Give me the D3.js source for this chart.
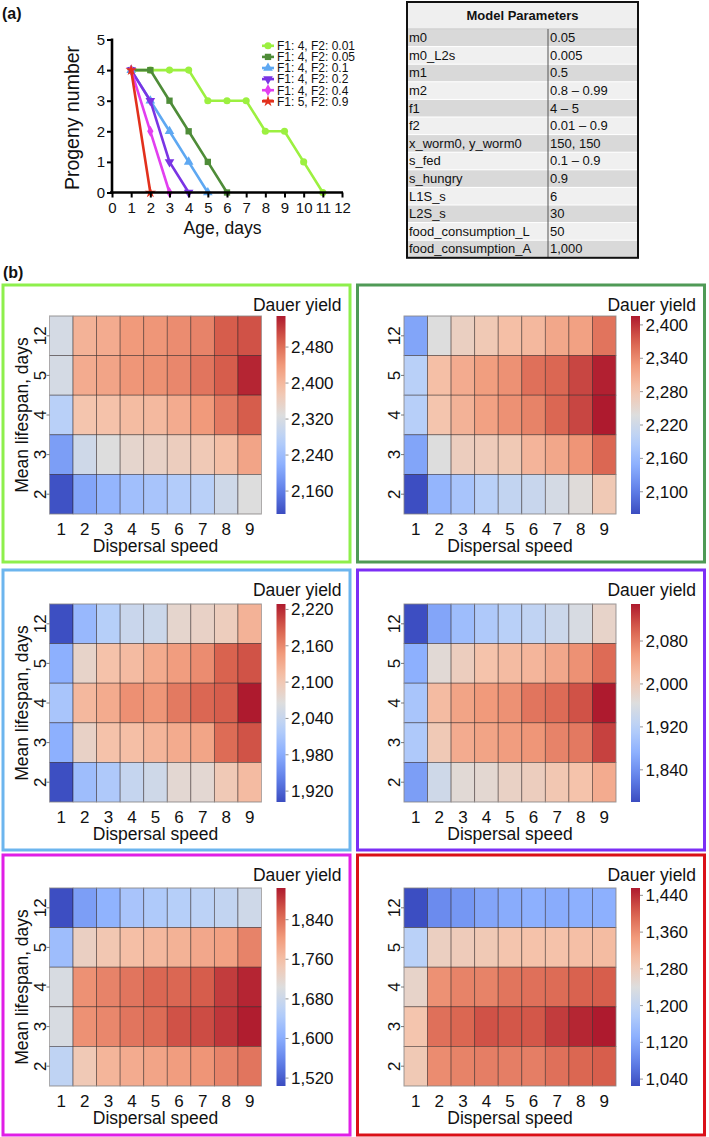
<!DOCTYPE html>
<html><head><meta charset="utf-8">
<script src="https://cdn.jsdelivr.net/npm/d3@7"></script>
<style>body{margin:0;background:#fff}svg{display:block}text{font-family:"Liberation Sans",Arial,sans-serif;fill:#111}</style>
</head><body><svg id="c" width="709" height="1137"></svg>
<script>
// ---------- (a) line chart data ----------
const seriesLabels = ["F1: 4, F2: 0.01","F1: 4, F2: 0.05","F1: 4, F2: 0.1","F1: 4, F2: 0.2","F1: 4, F2: 0.4","F1: 5, F2: 0.9"];
const progenyF2_001 = [4,4,4,4,3,3,3,2,2,1,0];
const progenyF2_005 = [4,4,3,2,1,0];
const progenyF2_01  = [4,3,2,1,0];
const progenyF2_02  = [4,3,1,0];
const progenyF2_04  = [4,2,0];
const progenyF2_09  = [4,0];
const ageTicks = [0,1,2,3,4,5,6,7,8,9,10,11,12];
const progenyTicks = [0,1,2,3,4,5];

// ---------- table ----------
const paramNames = ["m0","m0_L2s","m1","m2","f1","f2","x_worm0, y_worm0","s_fed","s_hungry","L1S_s","L2S_s","food_consumption_L","food_consumption_A"];
const paramValues = ["0.05","0.005","0.5","0.8 – 0.99","4 – 5","0.01 – 0.9","150, 150","0.1 – 0.9","0.9","6","30","50","1,000"];

// ---------- (b) heatmaps ----------
const speeds = ["1","2","3","4","5","6","7","8","9"];
const lifespans = ["12","5","4","3","2"];
const yieldF2_001 = [
 [2316,2408,2417,2439,2443,2452,2461,2496,2505],
 [2316,2417,2426,2443,2448,2457,2474,2496,2540],
 [2276,2382,2386,2395,2399,2417,2439,2470,2496],
 [2197,2307,2329,2347,2355,2364,2373,2391,2426],
 [2115,2206,2228,2245,2254,2267,2276,2307,2329]];
const yieldF2_005 = [
 [2138,2238,2263,2274,2288,2295,2313,2320,2356],
 [2195,2288,2309,2323,2334,2359,2366,2388,2412],
 [2192,2281,2302,2320,2334,2345,2366,2388,2416],
 [2138,2238,2266,2270,2274,2299,2313,2331,2366],
 [2062,2156,2177,2195,2206,2213,2227,2242,2274]];
const yieldF2_01 = [
 [1904,1994,2023,2043,2046,2079,2085,2092,2124],
 [1984,2082,2108,2115,2131,2144,2157,2186,2196],
 [2010,2118,2131,2154,2150,2170,2183,2190,2229],
 [1984,2085,2108,2111,2121,2131,2137,2180,2196],
 [1904,2000,2016,2039,2049,2075,2075,2098,2115]];
const yieldF2_02 = [
 [1782,1861,1891,1909,1920,1928,1942,1957,1983],
 [1872,1972,1994,2012,2020,2027,2042,2064,2094],
 [1902,2020,2046,2057,2064,2086,2094,2112,2149],
 [1909,2001,2038,2046,2053,2060,2075,2083,2123],
 [1854,1946,1972,1976,1987,1994,2005,2012,2038]];
const yieldF2_04 = [
 [1506,1584,1608,1636,1644,1652,1660,1668,1684],
 [1624,1732,1748,1760,1768,1776,1788,1796,1824],
 [1696,1812,1824,1836,1848,1848,1856,1880,1896],
 [1696,1812,1820,1836,1844,1864,1868,1884,1902],
 [1664,1744,1772,1784,1792,1800,1808,1824,1836]];
const yieldF2_09 = [
 [1027,1090,1103,1120,1128,1133,1128,1133,1133],
 [1189,1271,1279,1284,1292,1297,1297,1301,1305],
 [1262,1357,1370,1370,1383,1387,1391,1400,1404],
 [1292,1387,1396,1413,1409,1409,1430,1447,1456],
 [1284,1361,1370,1374,1374,1374,1387,1396,1404]];
const cbarDomains = [[2109,2549],[2060,2416],[1902,2229],[1780,2149],[1504,1904],[1025,1456]];
const cbarTicks1 = [2160,2240,2320,2400,2480];
const cbarTicks2 = [2100,2160,2220,2280,2340,2400];
const cbarTicks3 = [1920,1980,2040,2100,2160,2220];
const cbarTicks4 = [1840,1920,2000,2080];
const cbarTicks5 = [1520,1600,1680,1760,1840];
const cbarTicks6 = [1040,1120,1200,1280,1360,1440];

// ---------- styling ----------
const seriesColors = ["#9cf040","#4e8c38","#5ea8f2","#7a34e4","#e23ef0","#e2301c"];
const seriesSymbols = [d3.symbolCircle,d3.symbolSquare,d3.symbolTriangle,d3.symbolTriangle,d3.symbolDiamond,d3.symbolStar];
const panelBorders = ["#8eef4c","#4f9a56","#6cb5ee","#7c2ef5","#e01ee6","#da1018"];
const coolwarmStops = ["#3b4cc0","#6282ea","#8db0fe","#b8d0f9","#dddddd","#f5c4ac","#f19a7b","#d8604d","#ae1a2e"];
const coolwarm = d3.scaleLinear().domain(d3.range(9).map(i=>i/8)).range(coolwarmStops).interpolate(d3.interpolateRgb).clamp(true);

const svg = d3.select("#c");
const fmt = d3.format(",");

// ---------- (a) ----------
svg.append("text").attr("x",2).attr("y",19).attr("font-size",16).attr("font-weight","bold").text("(a)");
const x = d3.scaleLinear().domain([0,12]).range([112,342]);
const y = d3.scaleLinear().domain([0,5]).range([192.5,39.5]);
const series = [progenyF2_001,progenyF2_005,progenyF2_01,progenyF2_02,progenyF2_04,progenyF2_09];
const gA = svg.append("g");
const line = d3.line().x((d,i)=>x(i+1)).y(d=>y(d));
series.forEach((s,k)=>{
  const c = seriesColors[k];
  gA.append("path").attr("d",line(s)).attr("fill","none").attr("stroke",c).attr("stroke-width",2.6);
  s.forEach((v,i)=>{
    gA.append("path").attr("d",d3.symbol(seriesSymbols[k],k===4?34:40)())
      .attr("transform",`translate(${x(i+1)},${y(v)})`+(k===3?" rotate(180)":""))
      .attr("fill",c);
  });
});
const xAx = svg.append("g").attr("transform","translate(0,192.5)")
  .call(d3.axisBottom(x).tickValues(ageTicks).tickFormat(d3.format("d")).tickSize(5).tickSizeOuter(0).tickPadding(5));
const yAx = svg.append("g").attr("transform","translate(112,0)")
  .call(d3.axisLeft(y).tickValues(progenyTicks).tickFormat(d3.format("d")).tickSize(5).tickSizeOuter(0).tickPadding(2));
[xAx,yAx].forEach(a=>{
  a.select(".domain").attr("stroke","#000").attr("stroke-width",2.6);
  a.selectAll(".tick line").attr("stroke","#000").attr("stroke-width",2);
  a.selectAll(".tick text").attr("font-size",15).attr("font-family","Liberation Sans, Arial").attr("fill","#111");
});
xAx.select(".domain").attr("d","M110,0H343");
yAx.select(".domain").attr("d","M0,193.8V38.5");
svg.append("text").attr("x",222.5).attr("y",234).attr("text-anchor","middle").attr("font-size",17.5).text("Age, days");
svg.append("text").attr("transform","translate(79,118) rotate(-90)").attr("text-anchor","middle").attr("font-size",19.5).text("Progeny number");
// legend
seriesLabels.forEach((t,k)=>{
  const ly = 45.8 + k*11.1;
  svg.append("line").attr("x1",262).attr("x2",274).attr("y1",ly).attr("y2",ly).attr("stroke",seriesColors[k]).attr("stroke-width",2.6);
  svg.append("path").attr("d",d3.symbol(seriesSymbols[k],40)()).attr("transform",`translate(268,${ly})`+(k===3?" rotate(180)":"")).attr("fill",seriesColors[k]);
  svg.append("text").attr("x",277).attr("y",ly+4.3).attr("font-size",12).text(t);
});

// ---------- table ----------
const tX0=407, tX1=638, tXm=548, tY0=2, hH=27, rH=17.6;
const gT = svg.append("g");
gT.append("rect").attr("x",tX0).attr("y",tY0).attr("width",tX1-tX0).attr("height",hH).attr("fill","#efefef");
paramNames.forEach((n,i)=>{
  const ry = tY0+hH+i*rH;
  const bg = i%2===0 ? "#d9d9d9" : "#f0f0f0";
  gT.append("rect").attr("x",tX0).attr("y",ry).attr("width",tX1-tX0).attr("height",rH).attr("fill",bg);
  gT.append("line").attr("x1",tX0).attr("x2",tX1).attr("y1",ry).attr("y2",ry).attr("stroke","#fff").attr("stroke-width",1);
  gT.append("text").attr("x",tX0+2).attr("y",ry+rH-4.5).attr("font-size",13).attr("font-family","Lato, sans-serif").text(n);
  gT.append("text").attr("x",tXm+2).attr("y",ry+rH-4.5).attr("font-size",13).attr("font-family","Lato, sans-serif").text(paramValues[i]);
});
gT.append("line").attr("x1",tX0).attr("x2",tX1).attr("y1",tY0+hH).attr("y2",tY0+hH).attr("stroke","#bbb").attr("stroke-width",1);
gT.append("line").attr("x1",tXm).attr("x2",tXm).attr("y1",tY0+hH).attr("y2",tY0+hH+13*rH).attr("stroke","#555").attr("stroke-width",1);
gT.append("text").attr("x",(tX0+tX1)/2).attr("y",tY0+18).attr("text-anchor","middle").attr("font-size",13).attr("font-weight","bold").attr("font-family","Lato, sans-serif").text("Model Parameters");
gT.append("rect").attr("x",tX0).attr("y",tY0).attr("width",tX1-tX0).attr("height",hH+13*rH).attr("fill","none").attr("stroke","#111").attr("stroke-width",2);

// ---------- (b) ----------
svg.append("text").attr("x",3).attr("y",278).attr("font-size",16).attr("font-weight","bold").text("(b)");
const heatData = [yieldF2_001,yieldF2_005,yieldF2_01,yieldF2_02,yieldF2_04,yieldF2_09];
const heatTicks = [cbarTicks1,cbarTicks2,cbarTicks3,cbarTicks4,cbarTicks5,cbarTicks6];
const panelTops=[285,570,855], panelHs=[277,280,280], gridOff=[31,34,33];
const panelLefts=[3,357.5], panelW=347, gridW=212, gridH=198;
const defs = svg.append("defs");
const grad = defs.append("linearGradient").attr("id","cw").attr("x1",0).attr("x2",0).attr("y1",1).attr("y2",0);
d3.range(0,1.0001,0.05).forEach(t=>grad.append("stop").attr("offset",t).attr("stop-color",coolwarm(t)));

heatData.forEach((data,p)=>{
  const row = Math.floor(p/2), col = p%2;
  const px = panelLefts[col], py = panelTops[row];
  const g = svg.append("g");
  g.append("rect").attr("x",px).attr("y",py).attr("width",panelW).attr("height",panelHs[row])
    .attr("fill","none").attr("stroke",panelBorders[p]).attr("stroke-width",3);
  const gx = px+46.5, gy = py+gridOff[row];
  const xb = d3.scaleBand().domain(speeds).range([gx,gx+gridW]);
  const yb = d3.scaleBand().domain(lifespans).range([gy,gy+gridH]);
  const dom = cbarDomains[p];
  const norm = d3.scaleLinear().domain(dom).range([0,1]);
  lifespans.forEach((ls,r)=>{
    speeds.forEach((sp,c)=>{
      g.append("rect").attr("x",xb(sp)).attr("y",yb(ls)).attr("width",xb.bandwidth()).attr("height",yb.bandwidth())
        .attr("fill",coolwarm(norm(data[r][c]))).attr("stroke","rgba(40,30,30,0.55)").attr("stroke-width",0.8);
    });
  });
  g.append("rect").attr("x",gx).attr("y",gy).attr("width",gridW).attr("height",gridH).attr("fill","none").attr("stroke","rgba(200,200,200,0.6)").attr("stroke-width",0.8);
  speeds.forEach(sp=>{
    g.append("text").attr("x",xb(sp)+xb.bandwidth()/2).attr("y",gy+gridH+20.5).attr("text-anchor","middle").attr("font-size",17).text(sp);
  });
  lifespans.forEach(ls=>{
    const yc = yb(ls)+yb.bandwidth()/2;
    g.append("line").attr("x1",gx-3).attr("x2",gx).attr("y1",yc).attr("y2",yc).attr("stroke","#555").attr("stroke-width",0.8);
    g.append("text").attr("transform",`translate(${gx-4},${yc}) rotate(-90)`).attr("text-anchor","middle").attr("font-size",17).text(ls);
  });
  g.append("text").attr("x",gx+gridW/2).attr("y",gy+gridH+38).attr("text-anchor","middle").attr("font-size",17.5).text("Dispersal speed");
  if(col===0){
    g.append("text").attr("transform",`translate(${gx-22},${gy+gridH/2}) rotate(-90)`).attr("text-anchor","middle").attr("font-size",17.5).text("Mean lifespan, days");
  }
  const cbx = gx+227, cbw=9;
  const cy = d3.scaleLinear().domain(dom).range([gy+gridH,gy]);
  g.append("rect").attr("x",cbx).attr("y",gy).attr("width",cbw).attr("height",gridH).attr("fill","url(#cw)");
  heatTicks[p].forEach(t=>{
    g.append("line").attr("x1",cbx+cbw).attr("x2",cbx+cbw+3).attr("y1",cy(t)).attr("y2",cy(t)).attr("stroke","#777").attr("stroke-width",0.8);
    g.append("text").attr("x",cbx+cbw+5.5).attr("y",cy(t)+6).attr("font-size",17).text(fmt(t));
  });
  g.append("text").attr("x",px+338.5).attr("y",py+25.5).attr("text-anchor","end").attr("font-size",17.5).text("Dauer yield");
});
</script></body></html>
